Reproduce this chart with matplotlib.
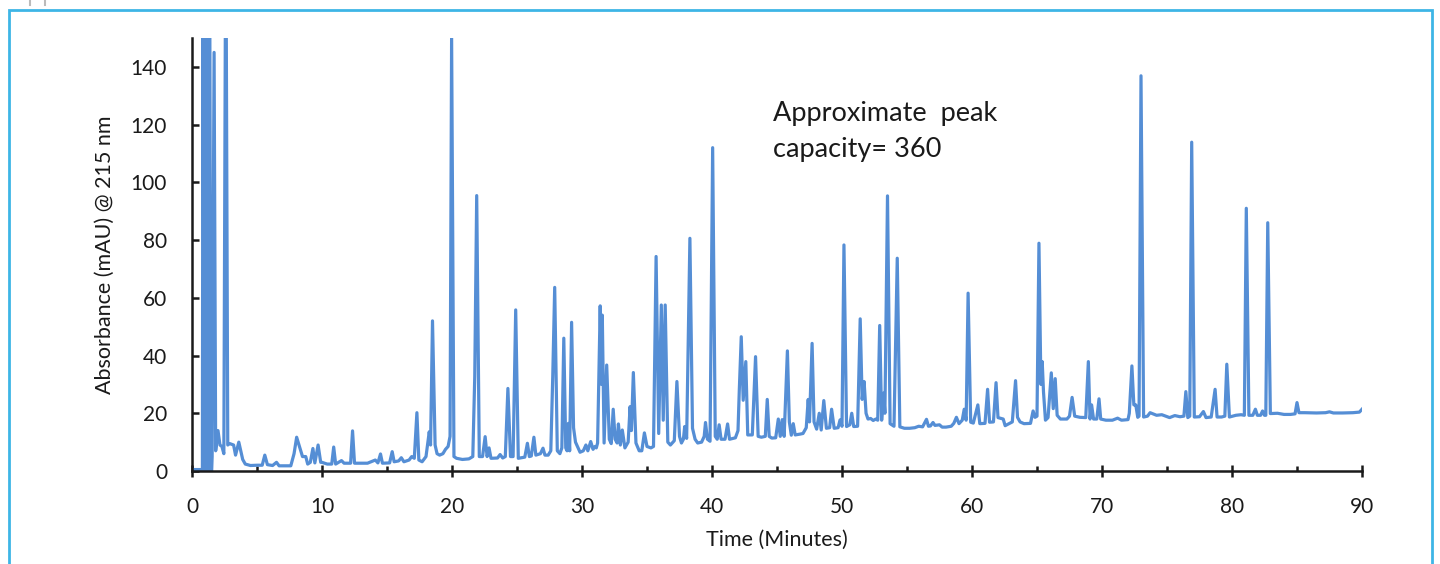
import matplotlib
matplotlib.use("Agg")
import matplotlib.pyplot as plt
from matplotlib.lines import Line2D
from matplotlib.patches import Rectangle

plt.rcParams["font.family"] = ["Lato", "DejaVu Sans"]

# ---------------------------
# Chromatogram trace as (minutes, mAU) vertices
# ---------------------------
trace_00_10 = [
    (0.0, 0.5), (0.8, 0.5), (0.85, 200), (0.92, -8), (1.0, 200), (1.08, -8),
    (1.17, 200), (1.25, -8), (1.35, 200), (1.45, -8), (1.55, 5), (1.7, 145),
    (1.82, 7), (2.0, 14), (2.15, 9), (2.3, 8.5), (2.45, 6), (2.6, 200),
    (2.75, 9), (2.9, 9.5), (3.2, 9), (3.35, 5.5), (3.6, 10), (3.9, 4),
    (4.1, 2.4), (4.5, 1.9), (5.0, 2), (5.4, 2), (5.6, 5.5), (5.8, 2.2),
    (6.2, 1.9), (6.5, 3), (6.7, 1.8), (7.6, 1.8), (7.85, 6), (8.05, 11.7),
    (8.3, 8), (8.5, 5), (8.75, 5), (8.9, 2.4), (9.1, 3), (9.3, 7.8),
    (9.45, 2.8), (9.7, 9), (9.9, 3), (10.0, 3),
]
trace_10_20 = [
    (10.4, 2.4), (10.75, 2.4), (10.9, 8.3), (11.05, 2.4), (11.5, 3.6),
    (11.7, 2.7), (12.2, 2.7), (12.35, 13.9), (12.5, 2.7), (13.5, 2.7),
    (14.1, 3.8), (14.3, 2.8), (14.5, 5.9), (14.65, 2.7), (15.2, 2.8),
    (15.4, 6.7), (15.55, 3.2), (15.9, 3.5), (16.1, 4.6), (16.3, 3.2),
    (16.7, 3.8), (16.9, 5), (17.1, 4.4), (17.3, 20.2), (17.45, 3.8),
    (17.7, 3.2), (18.0, 5), (18.25, 13.6), (18.35, 9), (18.5, 52),
    (18.7, 9), (18.85, 6), (19.05, 5.5), (19.3, 6), (19.5, 7.5), (19.7, 8.5),
    (19.85, 12), (19.97, 150), (20.15, 5),
]
trace_20_30 = [
    (20.35, 4.4), (20.8, 4), (21.3, 4.2), (21.6, 5), (21.75, 32.7),
    (21.9, 95.4), (22.1, 5), (22.35, 5), (22.55, 11.9), (22.7, 5), (22.85, 8),
    (23.0, 4.4), (23.5, 4.5), (23.7, 5.7), (23.9, 4.5), (24.1, 5),
    (24.3, 28.6), (24.5, 5), (24.7, 5), (24.9, 55.8), (25.1, 4.4),
    (25.6, 4.8), (25.8, 9.6), (25.95, 5), (26.1, 5.2), (26.3, 11.7),
    (26.45, 5.5), (26.8, 6), (27.0, 7.9), (27.15, 5.5), (27.4, 5.5),
    (27.6, 7), (27.75, 32.7), (27.9, 63.6), (28.1, 7), (28.3, 6), (28.45, 8),
    (28.6, 46), (28.75, 8), (28.85, 7), (28.95, 16.5), (29.05, 7),
    (29.2, 51.5), (29.35, 15), (29.5, 10), (29.85, 6.5), (30.1, 7),
]
trace_30_40 = [
    (30.3, 9), (30.45, 7), (30.67, 10.2), (30.85, 7.5), (31.0, 8.5),
    (31.1, 8), (31.2, 9.7), (31.4, 57.2), (31.5, 30), (31.56, 54),
    (31.7, 9.7), (31.9, 36.7), (32.1, 11), (32.25, 9.5), (32.4, 21.4),
    (32.55, 11), (32.7, 9.7), (32.8, 16.3), (32.95, 9), (33.1, 14.2),
    (33.3, 8), (33.55, 10), (33.7, 22.3), (33.8, 14), (33.95, 34.1),
    (34.15, 9.7), (34.4, 7), (34.6, 7), (34.8, 13.2), (35.0, 8.5), (35.3, 8),
    (35.5, 8.5), (35.7, 74.3), (35.9, 13), (36.1, 57.5), (36.25, 17.6),
    (36.4, 57.5), (36.6, 10), (36.8, 9), (37.1, 10.5), (37.3, 31), (37.5, 12),
    (37.65, 9.7), (37.8, 11), (37.9, 15.4), (38.05, 11.3), (38.3, 80.6),
    (38.5, 14.8), (38.7, 11), (38.9, 9.7), (39.2, 10), (39.4, 12),
    (39.5, 16.8), (39.65, 11), (39.85, 10.3), (40.05, 112),
]
trace_40_50 = [
    (40.25, 12), (40.4, 11), (40.55, 16), (40.7, 11), (41.0, 11),
    (41.2, 16.3), (41.35, 11), (41.8, 11.5), (42.0, 14), (42.1, 28),
    (42.25, 46.5), (42.4, 24.5), (42.6, 37.9), (42.75, 12.5), (43.1, 12.5),
    (43.35, 39.6), (43.55, 12), (43.8, 11.7), (44.1, 12), (44.25, 24.8),
    (44.4, 12), (44.6, 11.4), (44.9, 11.5), (45.1, 18), (45.25, 12),
    (45.4, 17.8), (45.55, 12), (45.8, 41.6), (45.95, 17), (46.1, 12.4),
    (46.25, 16.4), (46.4, 12.5), (46.8, 12.8), (47.0, 13), (47.25, 15),
    (47.4, 24.8), (47.5, 17), (47.7, 44.2), (47.85, 17), (48.05, 14.5),
    (48.25, 20), (48.4, 14.2), (48.6, 24.4), (48.8, 14.8), (49.05, 15),
    (49.2, 21.4), (49.4, 14.8), (49.7, 15), (49.85, 17.7), (50.0, 15.5),
    (50.15, 78.3),
]
trace_50_60 = [
    (50.35, 15.4), (50.6, 16), (50.75, 20), (50.9, 15.4), (51.2, 15.5),
    (51.4, 52.7), (51.55, 24.8), (51.7, 31), (51.85, 20), (52.0, 18),
    (52.2, 18.2), (52.4, 17.5), (52.6, 18), (52.75, 17.6), (52.9, 50.4),
    (53.05, 17.6), (53.2, 27), (53.3, 20), (53.5, 95.3), (53.7, 16.4),
    (54.0, 15.5), (54.25, 73.7), (54.45, 15.3), (54.8, 14.8), (55.2, 14.8),
    (55.6, 15), (55.9, 15.5), (56.2, 15.3), (56.5, 17.9), (56.65, 15.5),
    (56.8, 15.6), (57.0, 16.8), (57.15, 15.8), (57.5, 16), (57.7, 15.2),
    (58.0, 15.2), (58.4, 15.5), (58.6, 16.5), (58.8, 18.6), (59.0, 16.4),
    (59.25, 17.6), (59.4, 21.4), (59.55, 17.6), (59.7, 61.6), (59.9, 16.9),
]
trace_60_70 = [
    (60.1, 16.6), (60.45, 22.9), (60.6, 16.4), (61.0, 16.5), (61.2, 28.3),
    (61.35, 16.9), (61.65, 17), (61.85, 30.6), (62.0, 18.5), (62.4, 18),
    (62.55, 15.7), (63.1, 17), (63.35, 31.3), (63.5, 18.6), (63.7, 17),
    (64.0, 16.4), (64.5, 16.5), (64.7, 20.8), (64.85, 18.6), (65.0, 19),
    (65.15, 78.9), (65.3, 30), (65.4, 37.9), (65.5, 27.4), (65.65, 17.6),
    (65.85, 18.5), (66.1, 34), (66.25, 21.6), (66.4, 32), (66.55, 19.3),
    (66.8, 18), (67.3, 18), (67.5, 19), (67.7, 25.5), (67.9, 19), (68.3, 18.6),
    (68.75, 18.5), (68.95, 37.9), (69.08, 18), (69.2, 22.9), (69.35, 18),
    (69.6, 18), (69.77, 25), (69.9, 18),
]
trace_70_80 = [
    (70.3, 17.6), (70.8, 17.6), (71.2, 18.3), (71.5, 17.6), (72.0, 17.8),
    (72.1, 20), (72.3, 36.4), (72.45, 22.9), (72.6, 22.9), (72.75, 18.6),
    (72.85, 19), (73.0, 136.9), (73.2, 18.7), (73.5, 19), (73.7, 20.2),
    (74.2, 19.3), (74.6, 19.5), (75.2, 18.5), (75.6, 19.2), (76.0, 18.8),
    (76.3, 19), (76.45, 27.5), (76.6, 18.5), (76.75, 19), (76.9, 113.9),
    (77.1, 18.7), (77.5, 18.8), (77.8, 20.6), (78.0, 18.5), (78.4, 18.7),
    (78.7, 28.3), (78.85, 18.7), (79.2, 18.7), (79.45, 19), (79.6, 37),
    (79.8, 18.7), (80.3, 19.3),
]
trace_80_90 = [
    (80.7, 19.5), (80.95, 19.3), (81.1, 91), (81.3, 19.3), (81.6, 19.3),
    (81.8, 21.4), (81.95, 19.3), (82.2, 19.3), (82.35, 20.8), (82.5, 19.3),
    (82.6, 19.3), (82.75, 86), (82.95, 19.9), (83.5, 20), (84.0, 19.6),
    (84.5, 19.6), (84.85, 19.8), (85.0, 23.7), (85.15, 20.2), (85.6, 20.2),
    (86.5, 20.1), (87.2, 20.2), (87.5, 20.5), (87.8, 20.1), (88.5, 20.1),
    (89.3, 20.2), (89.8, 20.4), (90.0, 21.4),
]

x_ticks = [0, 10, 20, 30, 40, 50, 60, 70, 80, 90]
y_ticks = [0, 20, 40, 60, 80, 100, 120, 140]

note = "Approximate  peak\ncapacity= 360"

segments = [trace_00_10, trace_10_20, trace_20_30, trace_30_40, trace_40_50,
            trace_50_60, trace_60_70, trace_70_80, trace_80_90]
points = [p for seg in segments for p in seg]
time = [p[0] for p in points]
absorb = [p[1] for p in points]

# ---------------------------
# Plot
# ---------------------------
W, H = 1440, 564
fig = plt.figure(figsize=(W / 100, H / 100), dpi=100, facecolor="white")
ax = fig.add_axes([192 / W, 1 - 471 / H, (1362 - 192) / W, (471 - 38) / H])

ax.plot(time, absorb, color="#558ED5", lw=2.3, solid_joinstyle="round")

ax.set_xlim(0, 90)
ax.set_ylim(0, 150)
ax.set_xticks(x_ticks)
ax.set_xticks([5, 15, 25, 35, 45, 55, 65, 75, 85], minor=True)
ax.set_yticks(y_ticks)

for side in ["top", "right"]:
    ax.spines[side].set_visible(False)
for side in ["left", "bottom"]:
    ax.spines[side].set_linewidth(1.8)
    ax.spines[side].set_color("#1a1a1a")

ax.tick_params(axis="x", which="major", direction="inout", length=9, width=1.8,
               color="#1a1a1a", labelsize=15, pad=14, labelcolor="#1a1a1a")
ax.tick_params(axis="x", which="minor", direction="in", length=3.5, width=1.8,
               color="#1a1a1a")
ax.tick_params(axis="y", which="major", direction="in", length=5, width=1.8,
               color="#1a1a1a", labelsize=15, pad=18, labelcolor="#1a1a1a")

ax.set_xlabel("Time (Minutes)", fontsize=15.5, color="#1a1a1a", va="top")
ax.xaxis.set_label_coords(0.5, -0.135)
ax.set_ylabel("Absorbance (mAU) @ 215 nm", fontsize=15.5, color="#1a1a1a")
ax.yaxis.set_label_coords(-0.066, 0.5)

ax.text(44.7, 128.3, note, fontsize=19.5, color="#1a1a1a", va="top", ha="left",
        linespacing=1.55)

# frame of the surrounding slide
fig.patches.append(Rectangle((9 / W, -0.05), (1432 - 9) / W, 1.05 - 10 / H,
                             transform=fig.transFigure, fill=False,
                             edgecolor="#3DB5E6", lw=2))
for gx in [30, 45]:
    fig.lines.append(Line2D([gx / W, gx / W], [1, 1 - 5 / H],
                            transform=fig.transFigure, color="#BBBBBB", lw=1.5))

fig.savefig("out.png", dpi=100)
